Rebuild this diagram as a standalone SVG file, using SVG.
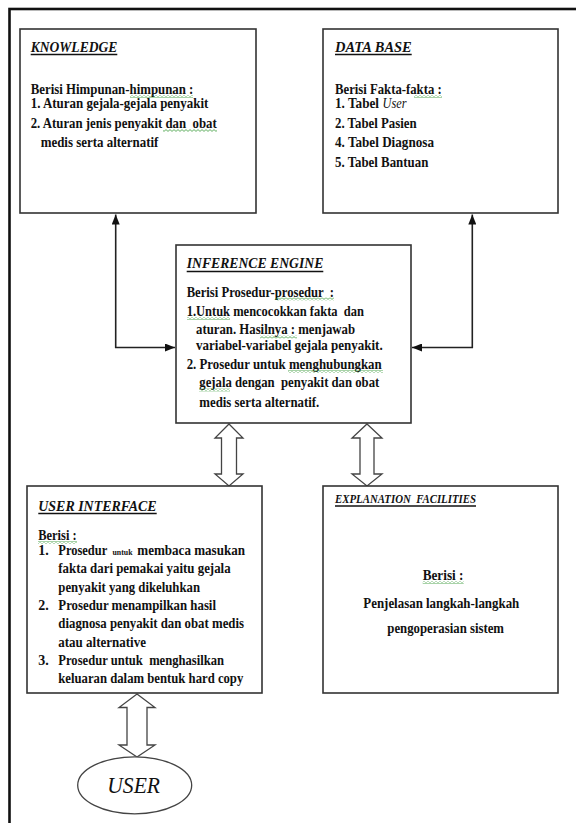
<svg xmlns="http://www.w3.org/2000/svg" width="576" height="823" viewBox="0 0 576 823">
  <style>
    .box { fill: #fff; stroke: #333; stroke-width: 1.6; }
    .frame { fill: none; stroke: #111; stroke-width: 2.6; }
    .b { font-family: "Liberation Serif", "Times New Roman", serif; font-size: 14px; font-weight: bold; fill: #111; white-space: pre; }
    .ti { font-family: "Liberation Serif", "Times New Roman", serif; font-size: 14px; font-weight: bold; font-style: italic; fill: #111; white-space: pre; }
    .ul { stroke: #111; stroke-width: 1.4; }
    .conn { fill: none; stroke: #222; stroke-width: 1.6; }
    .dbl { fill: #fff; stroke: #444; stroke-width: 1.3; stroke-linejoin: miter; }
    .sq { fill: url(#squiggle); }
  </style>
  <defs>
    <marker id="arrow" viewBox="0 0 10 8" refX="10" refY="4" markerWidth="10" markerHeight="8" markerUnits="userSpaceOnUse" orient="auto-start-reverse">
      <path d="M0,0 L10,4 L0,8 z" fill="#111"/>
    </marker>
    <pattern id="squiggle" x="0" y="0" width="4" height="3" patternUnits="userSpaceOnUse">
      <path d="M0,2.4 L2,0.6 L4,2.4" fill="none" stroke="#3a9a3a" stroke-width="0.8"/>
    </pattern>
  </defs>

  <!-- page frame -->
  <rect class="frame" x="9.5" y="9" width="620" height="860"/>

  <!-- connectors -->
  <g id="connectors">
    <path class="conn" d="M115.7,214.5 V347.5 H175" marker-start="url(#arrow)" marker-end="url(#arrow)"/>
    <path class="conn" d="M472.3,214.5 V347.5 H412" marker-start="url(#arrow)" marker-end="url(#arrow)"/>
    <polygon class="dbl" points="229,424 243,438 236.5,438 236.5,474 243,474 229,486 215,474 221.5,474 221.5,438 215,438"/>
    <polygon class="dbl" points="367,424 382,438 374,438 374,474 382,474 367,486 352,474 360,474 360,438 352,438"/>
    <polygon class="dbl" points="137,694 155,707.5 147,707.5 147,745 155,745 137,757 119,745 127,745 127,707.5 119,707.5"/>
  </g>

  <!-- knowledge base -->
  <g id="knowledge">
    <rect class="box" x="20" y="29" width="236" height="184"/>
    <text class="ti" x="30.7" y="51.7" textLength="86.6" lengthAdjust="spacingAndGlyphs">KNOWLEDGE</text>
    <line class="ul" x1="30.7" y1="54.5" x2="117.3" y2="54.5"/>
    <text class="b" x="30.7" y="94" textLength="162.7" lengthAdjust="spacingAndGlyphs">Berisi Himpunan-himpunan :</text>
    <text class="b" x="30.7" y="108.3" textLength="177.7" lengthAdjust="spacingAndGlyphs">1. Aturan gejala-gejala penyakit</text>
    <text class="b" x="30.7" y="128.3" textLength="186" lengthAdjust="spacingAndGlyphs">2. Aturan jenis penyakit dan  obat</text>
    <text class="b" x="40.7" y="147.3" textLength="117.7" lengthAdjust="spacingAndGlyphs">medis serta alternatif</text>
    <rect class="sq" x="130" y="95" width="63" height="3"/>
    <rect class="sq" x="163" y="129" width="54" height="3"/>
  </g>

  <!-- database -->
  <g id="database">
    <rect class="box" x="323" y="29" width="235" height="184"/>
    <text class="ti" x="335" y="51.7" textLength="76.7" lengthAdjust="spacingAndGlyphs">DATA BASE</text>
    <line class="ul" x1="335" y1="54.5" x2="411.7" y2="54.5"/>
    <text class="b" x="335" y="94" textLength="106.7" lengthAdjust="spacingAndGlyphs">Berisi Fakta-fakta :</text>
    <text class="b" x="335" y="108.3" textLength="44" lengthAdjust="spacingAndGlyphs">1. Tabel</text>
    <text class="b" x="382.5" y="108.3" textLength="24" lengthAdjust="spacingAndGlyphs" style="font-style:italic;font-weight:normal">User</text>
    <text class="b" x="335" y="128.3" textLength="81.7" lengthAdjust="spacingAndGlyphs">2. Tabel Pasien</text>
    <text class="b" x="335" y="147.3" textLength="99" lengthAdjust="spacingAndGlyphs">4. Tabel Diagnosa</text>
    <text class="b" x="335" y="166.7" textLength="93.3" lengthAdjust="spacingAndGlyphs">5. Tabel Bantuan</text>
    <rect class="sq" x="414" y="95" width="28" height="3"/>
  </g>

  <!-- inference engine -->
  <g id="inference-engine">
    <rect class="box" x="176" y="245" width="235" height="178"/>
    <text class="ti" x="186.7" y="268.3" textLength="136.7" lengthAdjust="spacingAndGlyphs" style="font-size:15px">INFERENCE ENGINE</text>
    <line class="ul" x1="186.7" y1="271.5" x2="323.3" y2="271.5"/>
    <text class="b" x="186.7" y="296.7" textLength="147.3" lengthAdjust="spacingAndGlyphs">Berisi Prosedur-prosedur  :</text>
    <text class="b" x="186.7" y="316" textLength="177.3" lengthAdjust="spacingAndGlyphs">1.Untuk mencocokkan fakta  dan</text>
    <text class="b" x="196" y="334.3" textLength="159" lengthAdjust="spacingAndGlyphs">aturan. Hasilnya : menjawab</text>
    <text class="b" x="196" y="350" textLength="186.7" lengthAdjust="spacingAndGlyphs">variabel-variabel gejala penyakit.</text>
    <text class="b" x="186.7" y="369.3" textLength="195" lengthAdjust="spacingAndGlyphs">2. Prosedur untuk menghubungkan</text>
    <text class="b" x="199.3" y="387.3" textLength="180" lengthAdjust="spacingAndGlyphs">gejala dengan  penyakit dan obat</text>
    <text class="b" x="199.3" y="406.7" textLength="120" lengthAdjust="spacingAndGlyphs">medis serta alternatif.</text>
    <rect class="sq" x="275" y="297.5" width="59" height="3"/>
    <rect class="sq" x="187" y="317" width="43" height="3"/>
    <rect class="sq" x="260" y="335.5" width="37" height="3"/>
    <rect class="sq" x="288" y="370" width="95" height="3"/>
    <rect class="sq" x="199" y="388.5" width="31" height="3"/>
  </g>

  <!-- user interface -->
  <g id="user-interface">
    <rect class="box" x="27" y="486" width="235" height="207"/>
    <text class="ti" x="38.3" y="510.7" textLength="118.3" lengthAdjust="spacingAndGlyphs" style="font-size:15px">USER INTERFACE</text>
    <line class="ul" x1="38.3" y1="513.5" x2="156.7" y2="513.5"/>
    <text class="b" x="38.3" y="540" textLength="38.3" lengthAdjust="spacingAndGlyphs">Berisi :</text>
    <rect class="sq" x="38" y="541" width="39" height="3"/>
    <text class="b" x="38.3" y="555">1.</text>
    <text class="b" x="58.3" y="555" textLength="49" lengthAdjust="spacingAndGlyphs">Prosedur</text>
    <text class="b" x="112.5" y="555" textLength="20" lengthAdjust="spacingAndGlyphs" style="font-size:7.5px">untuk</text>
    <text class="b" x="137.3" y="555" textLength="107.7" lengthAdjust="spacingAndGlyphs">membaca masukan</text>
    <text class="b" x="58.3" y="573.3" textLength="172.3" lengthAdjust="spacingAndGlyphs">fakta dari pemakai yaitu gejala</text>
    <text class="b" x="58.3" y="591.6" textLength="141.7" lengthAdjust="spacingAndGlyphs">penyakit yang dikeluhkan</text>
    <text class="b" x="38.3" y="610">2.</text>
    <text class="b" x="58.3" y="610" textLength="157.7" lengthAdjust="spacingAndGlyphs">Prosedur menampilkan hasil</text>
    <text class="b" x="58.3" y="628.3" textLength="185.7" lengthAdjust="spacingAndGlyphs">diagnosa penyakit dan obat medis</text>
    <text class="b" x="58.3" y="646.6" textLength="87.7" lengthAdjust="spacingAndGlyphs">atau alternative</text>
    <text class="b" x="38.3" y="664.9">3.</text>
    <text class="b" x="58.3" y="664.9" textLength="165.7" lengthAdjust="spacingAndGlyphs">Prosedur untuk  menghasilkan</text>
    <text class="b" x="58.3" y="683.2" textLength="185" lengthAdjust="spacingAndGlyphs">keluaran dalam bentuk hard copy</text>
  </g>

  <!-- explanation facilities -->
  <g id="explanation-facilities">
    <rect class="box" x="323" y="486" width="235" height="207"/>
    <text class="ti" x="335" y="503.3" textLength="141" lengthAdjust="spacingAndGlyphs" style="font-size:12.5px">EXPLANATION  FACILITIES</text>
    <line class="ul" x1="335" y1="506" x2="476" y2="506"/>
    <text class="b" x="422.7" y="580" textLength="40.7" lengthAdjust="spacingAndGlyphs">Berisi :</text>
    <rect class="sq" x="422.7" y="581" width="41" height="3"/>
    <text class="b" x="363.3" y="607.7" textLength="156" lengthAdjust="spacingAndGlyphs">Penjelasan langkah-langkah</text>
    <text class="b" x="387.3" y="633.3" textLength="116.7" lengthAdjust="spacingAndGlyphs">pengoperasian sistem</text>
  </g>

  <!-- user -->
  <g id="user">
    <ellipse cx="134.7" cy="785.3" rx="57" ry="28.5" fill="#fff" stroke="#444" stroke-width="1.3"/>
    <text x="107.3" y="793.3" textLength="52.7" lengthAdjust="spacingAndGlyphs" style="font-family:'Liberation Serif','Times New Roman',serif;font-size:23px;font-style:italic;fill:#111">USER</text>
  </g>
</svg>
